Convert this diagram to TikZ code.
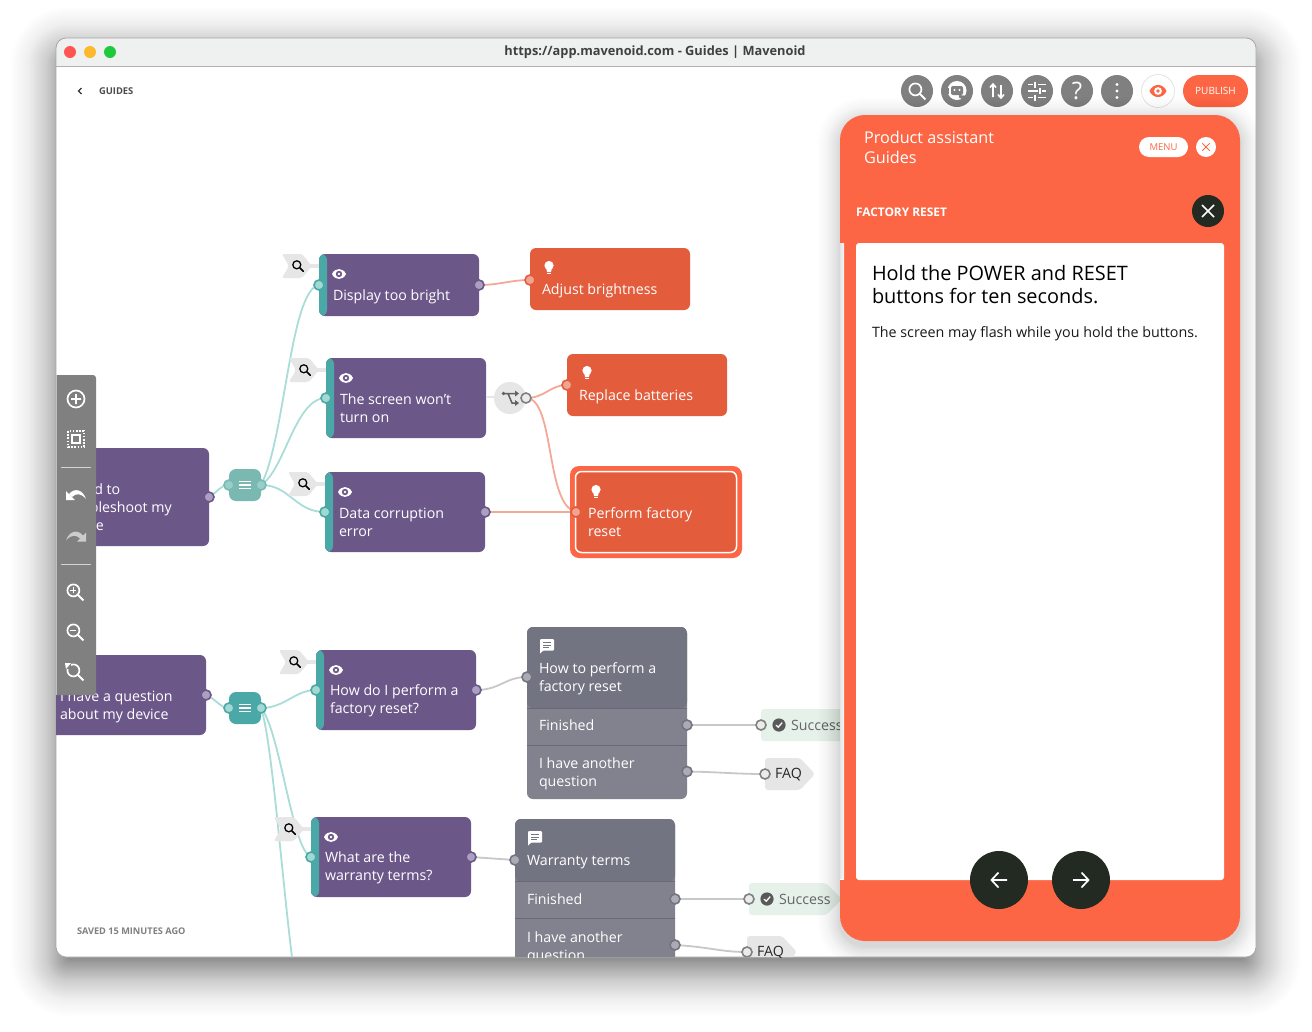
\documentclass[tikz,border=0pt]{standalone}
\usepackage{fontspec}
\setmainfont{Open Sans}
\usetikzlibrary{calc}
\definecolor{winbar}{HTML}{EFF1F0}
\definecolor{winline}{HTML}{B5AFAE}
\definecolor{tealA}{HTML}{4AA8A6}
\definecolor{tealB}{HTML}{7AB8B2}
\definecolor{tealP}{HTML}{A3D8D3}
\definecolor{tealL}{HTML}{ABDDD8}
\definecolor{purpleC}{HTML}{6C5789}
\definecolor{purpleP}{HTML}{AC9FC2}
\definecolor{orangeC}{HTML}{E35C3C}
\definecolor{orangeB}{HTML}{FC6644}
\definecolor{orangeP}{HTML}{F0A591}
\definecolor{salmon}{HTML}{F4A998}
\definecolor{greyH}{HTML}{737481}
\definecolor{greyR}{HTML}{82828E}
\definecolor{greyL}{HTML}{686878}
\definecolor{greyP}{HTML}{ABABB5}
\definecolor{tagg}{HTML}{E6E6E6}
\definecolor{linkg}{HTML}{C8C8C8}
\definecolor{toolg}{HTML}{808080}
\definecolor{okbg}{HTML}{E5F1E9}
\definecolor{inkdark}{HTML}{222A22}
\pgfdeclarelayer{bg}\pgfdeclarelayer{conn}\pgfsetlayers{bg,conn,main}
\newcommand\eyepath{(-7,0) .. controls (-4,-6.6) and (4,-6.6) .. (7,0) .. controls (4,6.6) and (-4,6.6) .. (-7,0) -- cycle}
\tikzset{
  base box/.style={inner sep=0pt,outer sep=0pt,anchor=north west,rounded corners=6pt},
  qcard/.style={base box,fill=purpleC,path picture={\fill[tealA] (path picture bounding box.north west) rectangle ([xshift=8pt]path picture bounding box.south west);}},
  rootcard/.style={base box,fill=purpleC},
  acard/.style={base box,fill=orangeC},
  gcard/.style={base box,fill=greyR,path picture={
     \fill[greyH] (path picture bounding box.north west) rectangle ([yshift=-#1pt]path picture bounding box.north east);
     \draw[greyL,line width=.8pt] ([yshift=-#1pt]path picture bounding box.north west) -- ([yshift=-#1pt]path picture bounding box.north east);
     \draw[greyL,line width=.8pt] ([yshift=-#1pt-37pt]path picture bounding box.north west) -- ([yshift=-#1pt-37pt]path picture bounding box.north east);}},
  hubbox/.style={inner sep=0pt,outer sep=0pt,minimum width=32pt,minimum height=32pt,rounded corners=7pt},
  portbase/.style={circle,inner sep=0pt,outer sep=0pt,minimum size=10pt,line width=1.6pt},
  inport/.style={portbase,fill=tealP,draw=tealA},
  outport/.style={portbase,fill=purpleP,draw=purpleC},
  aport/.style={portbase,fill=orangeP,draw=orangeC},
  gport/.style={portbase,fill=greyP,draw=greyH},
  openport/.style={portbase,fill=white!92!black,draw=toolg},
  link/.style={line width=1.8pt,line cap=round},
  tealink/.style={link,draw=tealL},
  salmonlink/.style={link,draw=salmon},
  greylink/.style={link,draw=linkg},
  lab/.style={anchor=west,inner sep=0pt,outer sep=0pt,text=white,align=left,font=\fontsize{14.2}{18}\selectfont},
  glab/.style={lab,text=black!60},
  topbtn/.style={circle,fill=toolg,inner sep=0pt,minimum size=32pt},
  darkbtn/.style={circle,fill=inkdark,inner sep=0pt},
  eyewhite/.pic={\fill[white] \eyepath; \fill[purpleC] (0,0) circle (3.2pt); \fill[white] (0,0) circle (1.4pt);},
  eyeorange/.pic={\begin{scope}[scale=1.22]\fill[orangeB] \eyepath; \fill[white] (0,0) circle (3.2pt); \fill[orangeB] (0,0) circle (1.5pt);\end{scope}},
  bulb/.pic={\fill[white] (0,-2.5) circle (4.6pt); \fill[white] (-2.8,0) -- (2.8,0) -- (2,4) -- (-2,4) -- cycle; \fill[white] (-1.9,5) rectangle (1.9,6.2);},
  chat/.pic={\fill[white,rounded corners=1pt] (-7,-7) rectangle (7,4.5); \fill[white] (-7,3) -- (-7,7.5) -- (-2.5,3.5) -- cycle;
     \draw[greyH,line width=1pt] (-4,-3.6) -- (4,-3.6) (-4,-1) -- (4,-1) (-4,1.6) -- (1.5,1.6);},
  lens/.pic={\draw[#1,line width=1.25pt] (-1.2,-1.2) circle (4pt); \draw[#1,line width=1.5pt,line cap=round] (1.8,1.8) -- (5.4,5.4);},
  lens/.default=black!85,
  tagshape/.pic={\fill[tagg,rounded corners=2pt] (-16,-12) -- (4,-12) -- (14,0) -- (4,12) -- (-16,12) -- (-9,0) -- cycle;
     \fill[tagg] (10,-2) rectangle (24,2); \pic {lens};},
  menuicon/.pic={\draw[white,line width=1.2pt] (-6,-3.5) -- (6,-3.5) (-6,0) -- (6,0) (-6,3.5) -- (6,3.5);},
  checkicon/.pic={\fill[black!65] (0,0) circle (6.6pt); \draw[white,line width=1.3pt,line cap=round] (-2.8,.2) -- (-.8,2.2) -- (3,-2.2);},
  toollens/.pic={\draw[white,line width=1.7pt] (-1.6,-1.6) circle (6pt); \draw[white,line width=2pt] (2.8,2.8) -- (8.4,8.4);},
}
\begin{document}
\begin{tikzpicture}[x=1pt,y=-1pt,font=\fontsize{14.2}{18}\selectfont]
\useasboundingbox (0,0) rectangle (1312,1031);
\begin{pgfonlayer}{bg}
  \fill[white] (0,0) rectangle (1312,1031);
  \foreach \i in {1,...,60} {
    \pgfmathsetmacro\e{-12+\i*1.1}
    \pgfmathsetmacro\a{0.0145*(1-\i/61)}
    \pgfmathsetmacro\r{max(4,12+\e)}
    \fill[black,opacity=\a,rounded corners=\r pt] (56-\e,52-\e) rectangle (1256+\e,971+\e);
  }
  \fill[white,rounded corners=10pt] (56,38) rectangle (1256,957);
  \begin{scope}
    \clip[rounded corners=10pt] (56,38) rectangle (1256,957);
    \fill[winbar] (56,38) rectangle (1256,66);
    \draw[winline,line width=1pt] (56,66.5) -- (1256,66.5);
  \end{scope}
  \draw[black!35,line width=.8pt,rounded corners=10pt] (56,38) rectangle (1256,957);
\end{pgfonlayer}

% ---- canvas ----
\begin{scope}
\clip[rounded corners=10pt] (56,67) rectangle (1256,957);
\pic at (298,266) {tagshape};
\pic at (305,370) {tagshape};
\pic at (304,484) {tagshape};
\pic at (295,662) {tagshape};
\pic at (290,829) {tagshape};

\node[rootcard,minimum width=179pt,minimum height=98pt] (rootA) at (30,448) {};
\node[lab] (rootAt) at (62,507) {I need to\\troubleshoot my\\device};
\node[rootcard,minimum width=176pt,minimum height=80pt] (rootB) at (30,655) {};
\node[lab] (rootBt) at (60,706.5) {I have a question\\about my device};

\node[hubbox,fill=tealB] (hubA) at (245,485) {};
\pic at (245,485) {menuicon};
\node[hubbox,fill=tealA] (hubB) at (245,708) {};
\pic at (245,708) {menuicon};

\node[qcard,minimum width=160pt,minimum height=62pt] (qDisp) at (319,254) {};
\pic at (339,274) {eyewhite};
\node[lab] (qDispT) at (333,297) {Display too bright};
\node[qcard,minimum width=160pt,minimum height=80pt] (qScreen) at (326,358) {};
\pic at (346,378) {eyewhite};
\node[lab] (qScreenT) at (340,408) {The screen won’t\\turn on};
\node[qcard,minimum width=160pt,minimum height=80pt] (qData) at (325,472) {};
\pic at (345,492) {eyewhite};
\node[lab] (qDataT) at (339,522.5) {Data corruption\\error};
\node[qcard,minimum width=160pt,minimum height=80pt] (qHow) at (316,650) {};
\pic at (336,670) {eyewhite};
\node[lab] (qHowT) at (330,700.5) {How do I perform a\\factory reset?};
\node[qcard,minimum width=160pt,minimum height=80pt] (qWarr) at (311,817) {};
\pic at (331,837) {eyewhite};
\node[lab] (qWarrT) at (325,867.5) {What are the\\warranty terms?};

\node[acard,minimum width=160pt,minimum height=62pt] (aAdj) at (530,248) {};
\pic at (549,268) {bulb};
\node[lab] (aAdjT) at (542,291) {Adjust brightness};
\node[acard,minimum width=160pt,minimum height=62pt] (aRep) at (567,354) {};
\pic at (587,373) {bulb};
\node[lab] (aRepT) at (579,397) {Replace batteries};
\node[base box,fill=orangeB,rounded corners=9pt,minimum width=172pt,minimum height=92pt] (aRing) at (570,466) {};
\node[acard,draw=white,line width=1.5pt,minimum width=161pt,minimum height=81pt] (aPerf) at (575.5,471.5) {};
\pic at (596,492) {bulb};
\node[lab] (aPerfT) at (588,522) {Perform factory\\reset};

% router
\node[circle,fill=tagg,inner sep=0pt,minimum size=32pt] (router) at (510,398) {};
\fill[tagg] (qScreen.east |- router) ++(0,-2) rectangle (router.center);
\draw[black!62,line width=1.5pt] (503,393.5) -- (516,393.5) (508,393.5) -- (512,403) -- (516,403);
\fill[black!62] (503.5,393.5) circle (1.8pt) (515,390.5) -- (515,396.5) -- (519,393.5) -- cycle (515,400) -- (515,406) -- (519,403) -- cycle;

% grey cards
\node[gcard=81,minimum width=160pt,minimum height=172pt] (gHow) at (527,627) {};
\pic at (547,646) {chat};
\node[lab] (gHowT) at (539,679) {How to perform a\\factory reset};
\node[lab] (gHowF) at (539,725.5) {Finished};
\node[lab] (gHowQ) at (539,774) {I have another\\question};
\node[gcard=62.5,minimum width=160pt,minimum height=172pt] (gWarr) at (515,819) {};
\pic at (535,838) {chat};
\node[lab] (gWarrT) at (527,862) {Warranty terms};
\node[lab] (gWarrF) at (527,899.5) {Finished};
\node[lab] (gWarrQ) at (527,948) {I have another\\question};

% end tags
\node[base box,fill=okbg,rounded corners=3pt,minimum width=85pt,minimum height=32pt] (okA) at (761,709) {};
\pic at (779,725) {checkicon};
\node[glab] (okAT) at (791,725.5) {Success};
\fill[okbg,rounded corners=3pt] (749,883) -- (826,883) -- (842,899) -- (826,915) -- (749,915) -- cycle;
\node[inner sep=0pt] (okB) at (749,899) {};
\pic at (767,899) {checkicon};
\node[glab] (okBT) at (779,899.5) {Success};
\fill[tagg,rounded corners=3pt] (765,758) -- (800,758) -- (815,774) -- (800,790) -- (765,790) -- cycle;
\node[lab,text=black!85] (faqA) at (775,775) {FAQ};
\fill[tagg,rounded corners=3pt] (747,936) -- (782,936) -- (797,952) -- (782,968) -- (747,968) -- cycle;
\node[lab,text=black!85] (faqB) at (757,953) {FAQ};

% ports
\node[outport] (pRootA) at (209,497) {};
\node[outport] (pRootB) at (206,695) {};
\node[inport,fill=tealP!70!tealB,draw=tealB] (pHubAi) at (229,485) {};
\node[inport,fill=tealP!70!tealB,draw=tealB] (pHubAo) at (261,485) {};
\node[inport] (pHubBi) at (229,708) {};
\node[inport] (pHubBo) at (261,708) {};
\node[inport] (pDispI) at (319,285) {};
\node[outport] (pDispO) at (479,285) {};
\node[inport] (pScreenI) at (326,398) {};
\node[openport] (pRouter) at (526,398) {};
\node[inport] (pDataI) at (325,512) {};
\node[outport] (pDataO) at (485,512) {};
\node[inport] (pHowI) at (316,690) {};
\node[outport] (pHowO) at (476,690) {};
\node[inport] (pWarrI) at (311,857) {};
\node[outport] (pWarrO) at (471,857) {};
\node[aport] (pAdj) at (530,280) {};
\node[aport] (pRep) at (567,385) {};
\node[aport,draw=orangeC] (pPerf) at (576,512) {};
\node[gport] (pgHowI) at (527,677) {};
\node[gport] (pgHowF) at (687,725) {};
\node[gport] (pgHowQ) at (687,771.5) {};
\node[gport] (pgWarrI) at (515,860) {};
\node[gport] (pgWarrF) at (675,899) {};
\node[gport] (pgWarrQ) at (675,945) {};
\node[openport] (pOkA) at (761,725) {};
\node[openport] (pOkB) at (749,899) {};
\node[openport] (pFaqA) at (765,774) {};
\node[openport] (pFaqB) at (747,952) {};
\coordinate (offB) at (293,965);
\end{scope}

% ---- connectors, behind the nodes ----
\begin{pgfonlayer}{conn}
\begin{scope}
\clip[rounded corners=10pt] (56,67) rectangle (1256,957);
\draw[tealink] (pRootA.center) .. controls (218,492) and (220,485) .. (pHubAi.center);
\draw[tealink] (pRootB.center) .. controls (215,698) and (220,708) .. (pHubBi.center);
\draw[tealink] (pHubAo.center) .. controls (285,440) and (290,290) .. (pDispI.center);
\draw[tealink] (pHubAo.center) .. controls (285,470) and (295,398) .. (pScreenI.center);
\draw[tealink] (pHubAo.center) .. controls (290,485) and (295,512) .. (pDataI.center);
\draw[tealink] (pHubBo.center) .. controls (285,708) and (295,690) .. (pHowI.center);
\draw[tealink] (pHubBo.center) .. controls (280,730) and (292,850) .. (pWarrI.center);
\draw[tealink] (pHubBo.center) .. controls (272,740) and (282,880) .. (offB);
\draw[salmonlink] (pDispO.center) .. controls (500,285) and (510,280) .. (pAdj.center);
\draw[salmonlink] (pRouter.center) .. controls (545,398) and (550,385) .. (pRep.center);
\draw[salmonlink] (pRouter.center) .. controls (555,398) and (545,505) .. (pPerf.center);
\draw[salmonlink] (pDataO.center) -- (pPerf.center);
\draw[greylink] (pHowO.center) .. controls (500,690) and (505,677) .. (pgHowI.center);
\draw[greylink] (pWarrO.center) -- (pgWarrI.center);
\draw[greylink] (pgHowF.center) -- (pOkA.center);
\draw[greylink] (pgHowQ.center) .. controls (720,772) and (735,774) .. (pFaqA.center);
\draw[greylink] (pgWarrF.center) -- (pOkB.center);
\draw[greylink] (pgWarrQ.center) .. controls (710,947) and (720,952) .. (pFaqB.center);
\end{scope}
\end{pgfonlayer}

% ---- window chrome ----
\foreach \cx/\col in {70/FF5552,90/FDB82C,110/1EC93C} {
  \definecolor{tl}{HTML}{\col}
  \fill[tl] (\cx,52) circle (6pt);
}
\node[font=\fontsize{12.8}{15}\selectfont\bfseries,text=black!75,inner sep=0pt] (title) at (655,52.5) {https://app.mavenoid.com - Guides | Mavenoid};
\draw[black!80,line width=1.3pt] (81.5,88) -- (78.5,91) -- (81.5,94);
\node[lab,font=\fontsize{9.4}{10}\selectfont\bfseries,text=black!70] (guides) at (99,91.5) {GUIDES};
\node[lab,font=\fontsize{9.2}{10}\selectfont\bfseries,text=black!50] (saved) at (77,931.5) {SAVED 15 MINUTES AGO};

% top buttons
\node[topbtn] (bSearch) at (917,91) {};
\pic at (917,91) {toollens};
\node[topbtn] (bAgent) at (957,91) {};
\fill[white] (957,90.5) circle (9.5pt);
\fill[toolg,rounded corners=2pt] (951,86) rectangle (963,95);
\fill[white] (954.5,90) circle (1.2pt) (959.5,90) circle (1.2pt);
\fill[toolg] (959,95) -- (968,96) -- (966,101) -- (959,97.5) -- cycle;
\fill[toolg] (947,88) rectangle (948.5,94);
\fill[white] (956,98.5) circle (1.6pt);
\node[topbtn] (bSort) at (997,91) {};
\draw[white,line width=1.6pt] (993,97) -- (993,84) (990,87.5) -- (993,84) -- (996,87.5);
\draw[white,line width=1.6pt] (1001,85) -- (1001,98) (998,94.5) -- (1001,98) -- (1004,94.5);
\node[topbtn] (bTune) at (1037,91) {};
\draw[white,line width=1.6pt] (1028,84.5) -- (1033,84.5) (1038,84.5) -- (1046,84.5) (1028,91) -- (1038,91) (1042,91) -- (1046,91) (1028,97.5) -- (1033,97.5) (1038,97.5) -- (1046,97.5);
\draw[white,line width=1.6pt] (1035,81.5) -- (1035,87.5) (1040,88) -- (1040,94) (1035,94.5) -- (1035,100.5);
\node[topbtn,text=white,font=\fontsize{24}{26}\selectfont] (bHelp) at (1077,91) {?};
\node[topbtn] (bMore) at (1117,91) {};
\fill[white] (1117,84.5) circle (1.7pt) (1117,91) circle (1.7pt) (1117,97.5) circle (1.7pt);
\node[circle,fill=white,draw=black!12,line width=.7pt,inner sep=0pt,minimum size=33pt] (bEye) at (1158,91) {};
\pic at (1158,91) {eyeorange};
\node[inner sep=0pt,fill=orangeB,rounded corners=16pt,minimum width=65pt,minimum height=32pt,text=white,font=\fontsize{10}{11}\selectfont] (bPub) at (1215.5,91) {PUBLISH};

% ---- left toolbar ----
\begin{scope}
\clip (56,370) rectangle (100,700);
\fill[toolg,rounded corners=3pt] (40,375) rectangle (96,695);
\end{scope}
\draw[black!25,line width=.8pt] (56,375) -- (56,695);
\draw[white!65!toolg,line width=.7pt] (61,467.5) -- (91,467.5) (61,564.5) -- (91,564.5);
\draw[white,line width=1.7pt] (76,399) circle (8.5pt) (71,399) -- (81,399) (76,394) -- (76,404);
\draw[white,line width=1.6pt,dash pattern=on 1.6pt off 1.6pt] (68,431) rectangle (84,447);
\draw[white,line width=1.6pt] (72,435) rectangle (80,443);
\fill[white] (66,500) -- (66,491) -- (75,500) -- cycle;
\fill[white] (69,494) .. controls (75,487) and (83,490) .. (86,499) .. controls (81,493) and (76,493) .. (72,497) -- cycle;
\fill[white!60!toolg] (86,541.5) -- (86,532.5) -- (77,541.5) -- cycle;
\fill[white!60!toolg] (83,535.5) .. controls (77,528.5) and (69,531.5) .. (66,540.5) .. controls (71,534.5) and (76,534.5) .. (80,538.5) -- cycle;
\pic at (75,592) {toollens};
\draw[white,line width=1.1pt] (70.4,590.4) -- (76.4,590.4) (73.4,587.4) -- (73.4,593.4);
\pic at (75,632) {toollens};
\draw[white,line width=1.1pt] (70.4,630.4) -- (76.4,630.4);
\pic at (75,672) {toollens};
\fill[toolg] (66,664) rectangle (70.5,669);
\fill[white] (65,663) -- (71,663) -- (66,669) -- cycle;

% ---- guide panel ----
\begin{scope}
\clip[rounded corners=10pt] (56,67) rectangle (1256,957);
\foreach \i in {1,...,28} {
  \pgfmathsetmacro\e{\i*1.0}
  \pgfmathsetmacro\a{0.011*(1-\i/29)}
  \pgfmathsetmacro\r{25+\e}
  \fill[black,opacity=\a,rounded corners=\r pt] (840-\e,115+5-\e) rectangle (1240+\e,941+5+\e);
}
\end{scope}
\fill[orangeB,rounded corners=25pt] (840,115) rectangle (1240,941);
\fill[white] (840,243) rectangle (844,880);
\shade[left color=black!10,right color=black!3] (840,243) rectangle (844,878);
\node[lab,font=\fontsize{16.2}{20}\selectfont] (pTitle) at (864,147.5) {Product assistant\\Guides};
\node[inner sep=0pt,fill=white,rounded corners=10pt,minimum width=49pt,minimum height=20pt,text=orangeB,font=\fontsize{9.5}{10}\selectfont] (menuB) at (1163.5,147) {MENU};
\node[circle,fill=white,inner sep=0pt,minimum size=20pt] (menuX) at (1206,147) {};
\draw[orangeB,line width=.9pt] (1202.3,143.3) -- (1209.7,150.7) (1202.3,150.7) -- (1209.7,143.3);
\node[lab,font=\fontsize{11.9}{13}\selectfont\bfseries] (pCrumb) at (856,212.5) {FACTORY RESET};
\node[darkbtn,minimum size=32pt] (bClose) at (1208,211) {};
\draw[white,line width=1.7pt] (1202,205) -- (1214,217) (1202,217) -- (1214,205);
\fill[white,rounded corners=3pt] (856,243) rectangle (1224,880);
\node[lab,text=black,font=\fontsize{19.9}{23}\selectfont] (pHead) at (872,284.5) {Hold the POWER and RESET\\buttons for ten seconds.};
\node[lab,text=black!90,font=\fontsize{14.3}{17}\selectfont] (pBody) at (872,333.5) {The screen may flash while you hold the buttons.};
\node[darkbtn,minimum size=58pt] (bBack) at (999,880) {};
\draw[white,line width=1.7pt] (1007,880) -- (991.5,880) (998.5,872.5) -- (991.5,880) -- (998.5,887.5);
\node[darkbtn,minimum size=58pt] (bNext) at (1081,880) {};
\draw[white,line width=1.7pt] (1073,880) -- (1088.5,880) (1081.5,872.5) -- (1088.5,880) -- (1081.5,887.5);
\end{tikzpicture}
\end{document}
